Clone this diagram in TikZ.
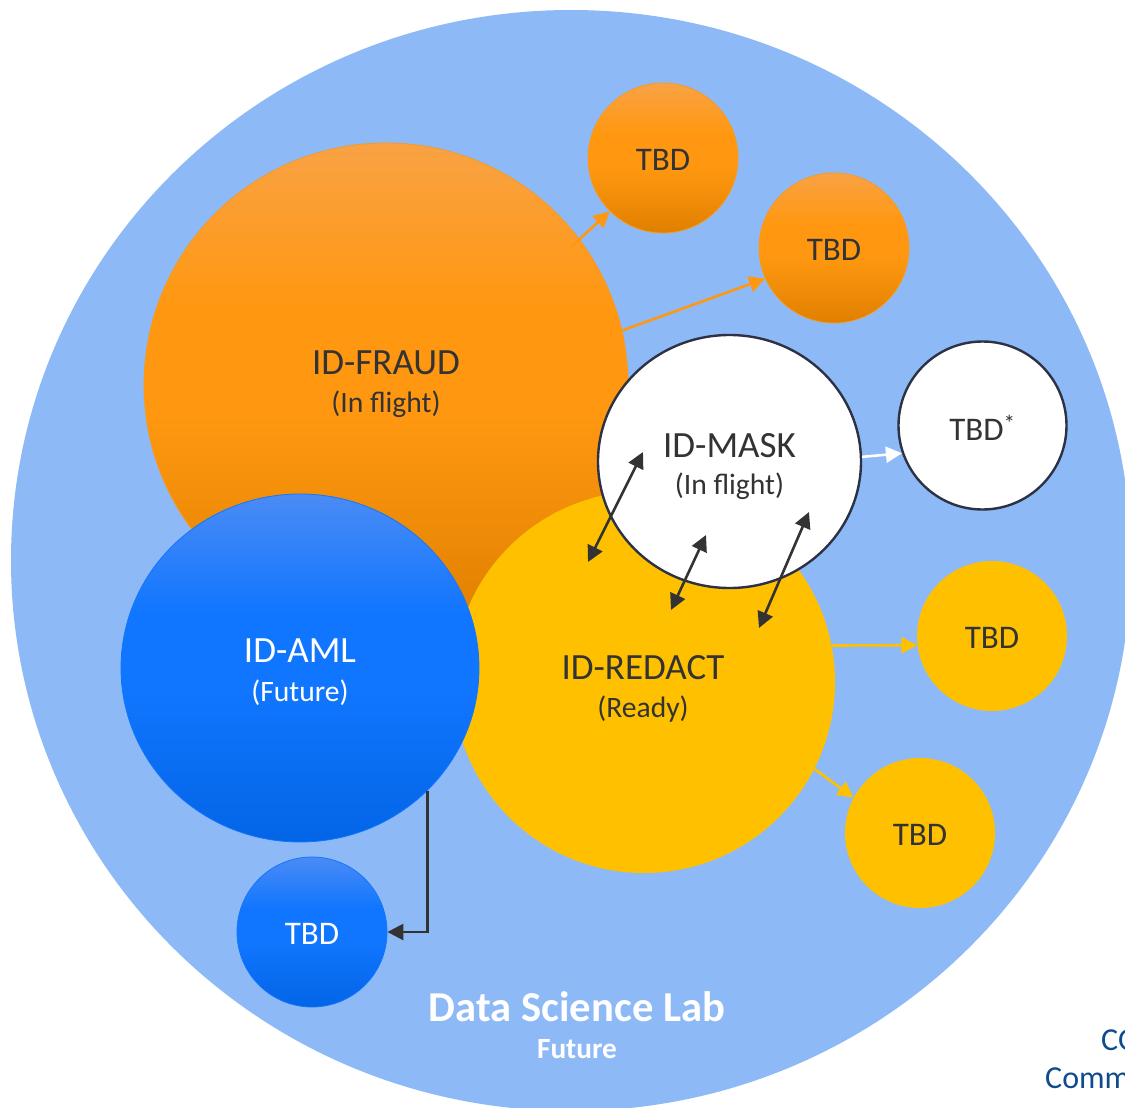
\documentclass[tikz,border=0pt]{standalone}
\usepackage{fontspec}
\setmainfont{Carlito}
\usetikzlibrary{arrows.meta,shapes.geometric}
\definecolor{labbg}{HTML}{8DBAF7}
\definecolor{darkink}{HTML}{333333}
\definecolor{maskline}{HTML}{2D3144}
\definecolor{orangeline}{HTML}{F79A20}
\definecolor{yellowfill}{HTML}{FFC000}
\definecolor{cornerblue}{HTML}{0F4C8E}
\definecolor{OrA}{HTML}{F9A245}
\definecolor{OrB}{HTML}{FF9810}
\definecolor{OrC}{HTML}{E08000}
\definecolor{BlA}{HTML}{4A8BF5}
\definecolor{BlB}{HTML}{1176FF}
\definecolor{BlC}{HTML}{0365E6}
\pgfdeclareverticalshading{orangeband}{100bp}{color(0bp)=(OrC); color(25bp)=(OrC); color(47bp)=(OrB); color(58bp)=(OrB); color(75bp)=(OrA); color(100bp)=(OrA)}
\pgfdeclareverticalshading{blueband}{100bp}{color(0bp)=(BlC); color(25bp)=(BlC); color(47bp)=(BlB); color(58bp)=(BlB); color(75bp)=(BlA); color(100bp)=(BlA)}
\tikzset{
  orangeshade/.style={circle,inner sep=0pt,draw=orangeline,line width=0.8pt,shading=orangeband,text=darkink},
  blueshade/.style={inner sep=0pt,draw=BlB,line width=0.8pt,shading=blueband,text=white},
  yellowdisc/.style={circle,inner sep=0pt,fill=yellowfill,text=darkink},
  whitedisc/.style={inner sep=0pt,fill=white,draw=maskline,line width=2.4pt,text=black!80},
  bigsize/.style={font=\fontsize{37}{40}\selectfont,align=center},
  tbdsize/.style={font=\fontsize{33}{36}\selectfont},
  headtip/.tip={Triangle[length=16pt,width=16pt]},
  orangearrow/.style={draw=OrB,line width=2.6pt,-headtip},
  yellowarrow/.style={draw=yellowfill,line width=2.6pt,-headtip},
  whitearrow/.style={draw=white,line width=2.6pt,-headtip},
  darkarrow/.style={draw=darkink,line width=2.6pt,-headtip},
  dualarrow/.style={draw=darkink,line width=2.6pt,headtip-headtip}
}
\newcommand{\sublabel}[1]{{\fontsize{29.6}{34}\selectfont #1}}
\newcommand{\lowtext}[1]{\raisebox{-2pt}[\height][\depth]{#1}}
\begin{document}
\begin{tikzpicture}[x=1pt,y=-1pt]
\clip (0,0) rectangle (1125,1108);
\fill[white] (0,0) rectangle (1125,1108);
\node[ellipse,fill=labbg,minimum width=1120pt,minimum height=1101pt,inner sep=0pt] (lab) at (571,560.5) {};
\node[orangeshade,minimum size=484pt] (fraud) at (386,385) {};
\node[yellowdisc,minimum size=382pt] (redact) at (644,682) {};
\node[blueshade,ellipse,minimum width=358pt,minimum height=348pt] (aml) at (300,668) {};
\node[whitedisc,ellipse,minimum width=263pt,minimum height=253pt] (mask) at (729.5,461.5) {};
\node[bigsize,text=darkink] (fraudText) at (386,384.5) {ID-FRAUD\\[-2pt]\sublabel{(In flight)}};
\node[bigsize,text=darkink] (redactText) at (643,688.5) {ID-REDACT\\[-2pt]\sublabel{(Ready)}};
\node[bigsize,text=white] (amlText) at (300,672.5) {ID-AML\\[-1pt]\sublabel{(Future)}};
\node[bigsize,text=black!80] (maskText) at (729.5,467) {ID-MASK\\[-3pt]\sublabel{(In flight)}};
\node[orangeshade,minimum size=150pt,tbdsize] (tbdA) at (663,158) {\lowtext{TBD}};
\node[orangeshade,minimum size=150pt,tbdsize] (tbdB) at (834,248) {\lowtext{TBD}};
\node[whitedisc,circle,minimum size=168pt,tbdsize] (tbdC) at (982.5,425.5) {\lowtext{TBD\textsuperscript{*}}};
\node[yellowdisc,minimum size=150pt,tbdsize] (tbdD) at (992,636) {\lowtext{TBD}};
\node[yellowdisc,minimum size=150pt,tbdsize] (tbdE) at (920,833) {\lowtext{TBD}};
\node[blueshade,circle,minimum size=150pt,tbdsize] (tbdF) at (312,932) {\lowtext{TBD}};
\coordinate (aTop) at (643,452);
\coordinate (aBot) at (588,562);
\coordinate (bTop) at (706,535);
\coordinate (bBot) at (671,610);
\coordinate (cTop) at (809,512);
\coordinate (cBot) at (759,628);
\draw[orangearrow,shorten <=-11pt] (fraud.37) -- (tbdA.225);
\draw[orangearrow] (fraud.13) -- (tbdB.204);
\draw[whitearrow] (mask.2) -- (tbdC.199);
\draw[yellowarrow] (redact.11) -- (tbdD.187);
\draw[yellowarrow] (redact.-27) -- (tbdE.152);
\draw[darkarrow] (aml.-44) |- (tbdF.east);
\draw[dualarrow] (aBot) -- (aTop);
\draw[dualarrow] (bBot) -- (bTop);
\draw[dualarrow] (cBot) -- (cTop);
\node[text=white,font=\bfseries\fontsize{42.6}{44}\selectfont] (labname) at (577,1007) {Data Science Lab};
\node[text=white,font=\bfseries\fontsize{29.3}{31}\selectfont] (labstate) at (577,1049) {Future};
\node[text=cornerblue,anchor=west,inner sep=0pt,font=\fontsize{32}{34}\selectfont] (cornerA) at (1101,1040) {CO};
\node[text=cornerblue,anchor=west,inner sep=0pt,font=\fontsize{32}{34}\selectfont] (cornerB) at (1045,1078) {Comm};
\end{tikzpicture}
\end{document}
